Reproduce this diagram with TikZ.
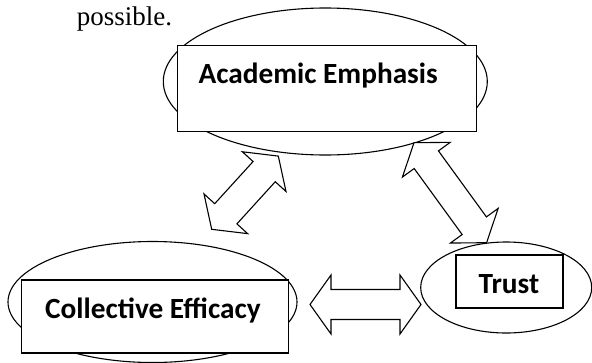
\documentclass[tikz,border=0pt]{standalone}
\usepackage{fontspec}
\setmainfont{Liberation Serif}
\newfontfamily\boxfont{Carlito}
\usetikzlibrary{shapes.geometric}

\tikzset{
    oval/.style={draw, ellipse, inner sep=0pt, line width=1.1pt},
    box/.style={draw, fill=white, rectangle, inner sep=0pt, line width=1.1pt},
    boxtext/.style={font=\boxfont\bfseries\fontsize{29.3}{35}\selectfont, inner sep=0pt, anchor=base west},
    arrowline/.style={draw, fill=white, line width=1.1pt, line join=miter},
    % two-headed block arrow, #1 = length tip to tip
    pics/twoway/.style={code={
        \path[arrowline] (-#1/2,0) -- (-#1/2+21,-29.5) -- (-#1/2+21,-15)
            -- (#1/2-21,-15) -- (#1/2-21,-29.5) -- (#1/2,0)
            -- (#1/2-21,29.5) -- (#1/2-21,15) -- (-#1/2+21,15)
            -- (-#1/2+21,29.5) -- cycle;
    }}
}

\begin{document}
\begin{tikzpicture}[x=1pt, y=-1pt]
    \useasboundingbox (0,0) rectangle (592,362);

    % line of the text above
    \node[font=\fontsize{27}{32}\selectfont, inner sep=0pt, anchor=base west] (before) at (76.7,25) {possible.};

    % the three ovals
    \node[oval, minimum width=324pt, minimum height=147pt] (aeoval) at (325.3,81.5) {};
    \node[oval, minimum width=289pt, minimum height=121pt] (ceoval) at (152.5,302) {};
    \node[oval, minimum width=171pt, minimum height=91pt] (troval) at (506.2,287.5) {};

    % boxes on top of them
    \node[box, minimum width=299pt, minimum height=86pt] (aebox) at (327,88.5) {};
    \node[box, minimum width=266.5pt, minimum height=73pt] (cebox) at (155,316.5) {};
    \node[box, minimum width=107pt, minimum height=53pt] (trbox) at (509.5,281.5) {};

    \node[boxtext] (ae) at (198.3,83.3) {Academic Emphasis};
    \node[boxtext] (ce) at (45,318.3) {Collective Efficacy};
    \node[boxtext] (tr) at (478.3,293.3) {Trust};

    % block arrows between them
    \pic[rotate=47.7] (aece) at (245,192.7) {twoway=99};
    \pic[rotate=-54] (aetr) at (450.3,192.7) {twoway=123.6};
    \pic (cetr) at (365.5,304.5) {twoway=111};
\end{tikzpicture}
\end{document}
